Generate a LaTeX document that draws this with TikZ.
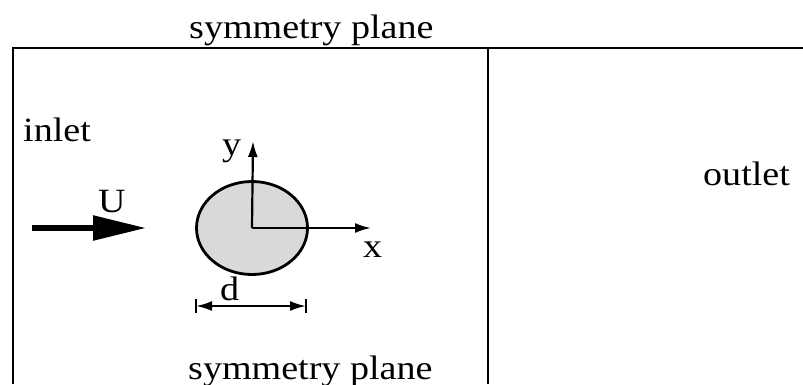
\documentclass[tikz,border=0pt]{standalone}
\usepackage{fontspec}
\setmainfont[FakeStretch=1.12]{Liberation Serif}
\usetikzlibrary{arrows.meta}
\tikzset{lbl/.style={draw=none, fill=none, inner sep=0pt, anchor=base west,
  font=\fontsize{34}{40}\selectfont},
  wall/.style={line width=2.2pt},
  axis/.style={line width=2.2pt, -{Latex[length=16pt,width=10pt]}}}

\begin{document}
\begin{tikzpicture}[x=1pt, y=-1pt, >=Latex]
  \useasboundingbox (0,0) rectangle (803,384);
  % domain boundaries
  \coordinate (tl) at (13,48);
  \coordinate (bl) at (13,384);
  \coordinate (tm) at (488,48);
  \coordinate (bm) at (488,384);
  \coordinate (tr) at (803,48);
  \draw[wall] (bl) -- (tl) -- (tr);
  \draw[wall] (tm) -- (bm);
  % boundary labels
  \node[lbl] (symtop) at (189,38)  {symmetry plane};
  \node[lbl] (symbot) at (188,379) {symmetry plane};
  \node[lbl] (inlet)  at (23,141)  {inlet};
  \node[lbl] (outlet) at (703,185) {outlet};
  % cylinder and axes
  \coordinate (o) at (252,228);
  \draw[line width=2.8pt, fill=black!15] (o) ellipse [x radius=55.5, y radius=46.5];
  \coordinate (xend) at (371,228);
  \coordinate (yend) at (253,141);
  \draw[axis] (o) -- (xend);
  \draw[axis] (o) -- (yend);
  \node[lbl] (ylab) at (222,155) {y};
  \node[lbl] (xlab) at (363,257) {x};
  % inflow
  \coordinate (u0) at (32,228);
  \coordinate (u1) at (146,228);
  \draw[line width=5.5pt, -{Triangle[length=53pt,width=24pt]}] (u0) -- (u1);
  \node[lbl] (ulab) at (98,212) {U};
  % diameter
  \coordinate (dl) at (196,306);
  \coordinate (dr) at (306,306);
  \draw[line width=2.2pt, {Latex[length=16pt,width=10pt]}-{Latex[length=16pt,width=10pt]}] (dl) -- (dr);
  \draw[wall] (dl) ++(0,-7) -- ++(0,14);
  \draw[wall] (dr) ++(0,-7) -- ++(0,14);
  \node[lbl] (dlab) at (220,300) {d};
\end{tikzpicture}
\end{document}
